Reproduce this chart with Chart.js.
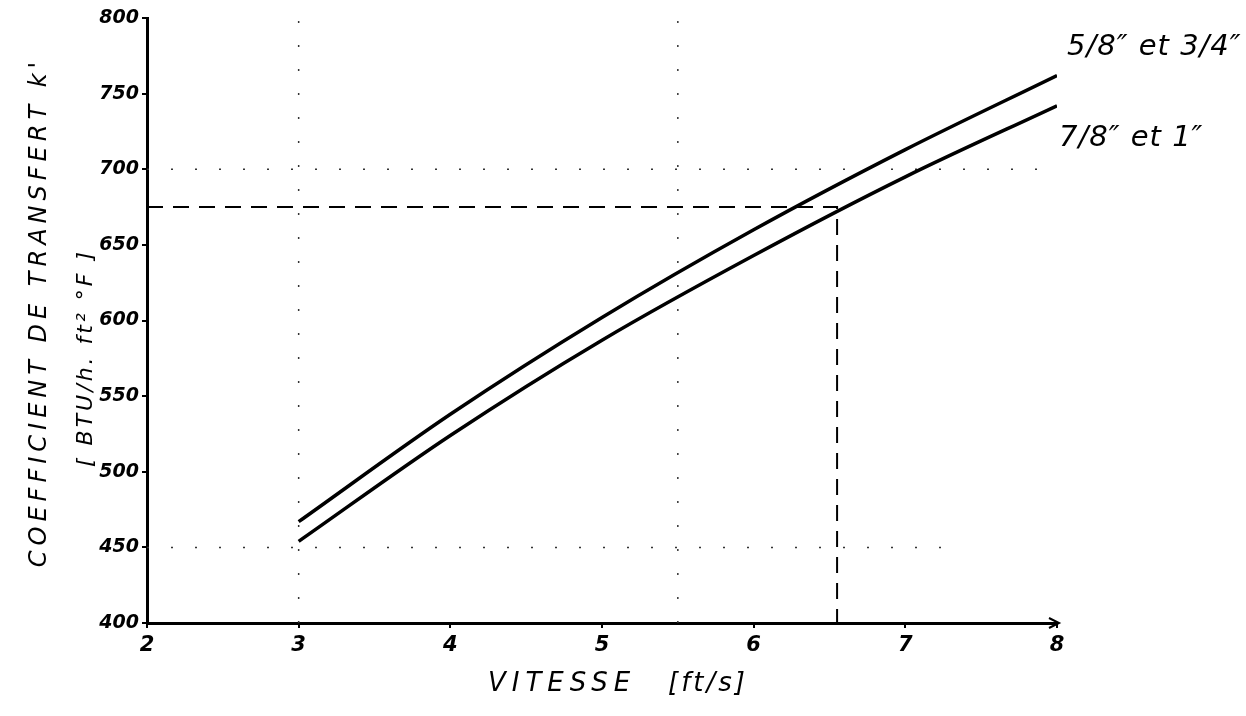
<!DOCTYPE html>
<html>
<head>
<meta charset="utf-8">
<script src="https://cdn.jsdelivr.net/npm/chart.js@4.4.1/dist/chart.umd.min.js"></script>
<style>
  html, body { margin: 0; padding: 0; background: #fff; }
  #wrap { width: 1246px; height: 716px; position: relative; }
</style>
</head>
<body>
<div id="wrap"><canvas id="kChart" width="1246" height="716"></canvas></div>
<script>
// vitesse (ft/s) et coefficient k'
const vitesse = [3, 4, 5, 6, 7, 8];
const k_58_34 = [467, 538, 602, 660, 713, 762];
const k_78_1 = [454, 524, 587, 643, 695, 742];

const serieNames = ['5/8\u2033 et 3/4\u2033', '7/8\u2033 et 1\u2033'];
const xTicks = [2, 3, 4, 5, 6, 7, 8];
const yTicks = [400, 450, 500, 550, 600, 650, 700, 750, 800];

// lecture: v = 6.55 ft/s -> k' = 675
const lectureX = [2, 6.55, 6.55];
const lectureY = [675, 675, 400];

// lignes pointillées du papier
const pointV3X = [3, 3];
const pointV3Y = [400, 800];
const pointV55X = [5.5, 5.5];
const pointV55Y = [400, 800];
const pointH700X = [2, 8];
const pointH700Y = [700, 700];
const pointH450X = [2, 7.3];
const pointH450Y = [450, 450];

const pts = (xs, ys) => xs.map((x, i) => ({ x: x, y: ys[i] }));

const handFont = '"DejaVu Sans", sans-serif';

const dotted = (data) => ({
  data: data,
  borderColor: '#333',
  borderWidth: 1.5,
  borderDash: [2, 22],
  pointRadius: 0,
  fill: false,
  tension: 0
});

const titlesPlugin = {
  id: 'titles',
  afterDraw(chart) {
    const ctx = chart.ctx;
    const xs = chart.scales.x, ys = chart.scales.y;
    const area = chart.chartArea;
    ctx.save();
    ctx.fillStyle = '#000';
    ctx.strokeStyle = '#000';

    // petite flèche au bout de l'axe x
    ctx.lineWidth = 2;
    ctx.beginPath();
    ctx.moveTo(area.right - 8, area.bottom - 5);
    ctx.lineTo(area.right + 2, area.bottom);
    ctx.lineTo(area.right - 8, area.bottom + 5);
    ctx.stroke();

    // titre axe x
    ctx.font = 'italic 26px ' + handFont;
    ctx.textAlign = 'left';
    ctx.textBaseline = 'middle';
    ctx.letterSpacing = '6px';
    ctx.fillText('VITESSE', 488, 684);
    ctx.letterSpacing = '3px';
    ctx.fillText('[ft/s]', 668, 684);

    // titre axe y (deux lignes)
    ctx.textAlign = 'center';
    ctx.save();
    ctx.translate(40, 312);
    ctx.rotate(-Math.PI / 2);
    ctx.font = 'italic 24px ' + handFont;
    ctx.letterSpacing = '5px';
    ctx.fillText("COEFFICIENT DE TRANSFERT k'", 0, 0);
    ctx.restore();
    ctx.save();
    ctx.translate(86, 358);
    ctx.rotate(-Math.PI / 2);
    ctx.font = 'italic 22px ' + handFont;
    ctx.letterSpacing = '3px';
    ctx.fillText('[ BTU/h. ft\u00b2 \u00b0F ]', 0, 0);
    ctx.restore();

    // noms des courbes
    ctx.font = 'italic 29px ' + handFont;
    ctx.letterSpacing = '1px';
    ctx.textAlign = 'left';
    ctx.textBaseline = 'alphabetic';
    const last = vitesse.length - 1;
    ctx.fillText(serieNames[0], xs.getPixelForValue(vitesse[last]) + 10, ys.getPixelForValue(k_58_34[last]) - 20);
    ctx.fillText(serieNames[1], xs.getPixelForValue(vitesse[last]) + 2, ys.getPixelForValue(k_78_1[last]) + 40);
    ctx.restore();
  }
};

const config = {
  type: 'line',
  data: {
    datasets: [
      {
        label: serieNames[0],
        data: pts(vitesse, k_58_34),
        borderColor: '#000',
        borderWidth: 3.5,
        pointRadius: 0,
        cubicInterpolationMode: 'monotone',
        fill: false
      },
      {
        label: serieNames[1],
        data: pts(vitesse, k_78_1),
        borderColor: '#000',
        borderWidth: 3.5,
        pointRadius: 0,
        cubicInterpolationMode: 'monotone',
        fill: false
      },
      {
        label: 'lecture',
        data: pts(lectureX, lectureY),
        borderColor: '#000',
        borderWidth: 2,
        borderDash: [16, 10],
        pointRadius: 0,
        fill: false,
        tension: 0
      },
      dotted(pts(pointV3X, pointV3Y)),
      dotted(pts(pointV55X, pointV55Y)),
      dotted(pts(pointH700X, pointH700Y)),
      dotted(pts(pointH450X, pointH450Y))
    ]
  },
  options: {
    responsive: false,
    animation: false,
    layout: { padding: { top: 18, right: 189, left: 0, bottom: 0 } },
    plugins: {
      legend: { display: false },
      tooltip: { enabled: false }
    },
    scales: {
      x: {
        type: 'linear',
        min: 2,
        max: 8,
        afterBuildTicks: (scale) => { scale.ticks = xTicks.map(v => ({ value: v })); },
        afterFit: (scale) => { scale.height = 93; },
        border: { display: true, color: '#000', width: 3 },
        grid: { drawOnChartArea: false, drawTicks: true, tickLength: 5, color: '#000', lineWidth: 2 },
        ticks: {
          color: '#000',
          padding: 5,
          font: { family: handFont, size: 21, style: 'italic', weight: 'bold' }
        }
      },
      y: {
        min: 400,
        max: 800,
        afterBuildTicks: (scale) => { scale.ticks = yTicks.map(v => ({ value: v })); },
        afterFit: (scale) => { scale.width = 147; },
        border: { display: true, color: '#000', width: 3 },
        grid: { drawOnChartArea: false, drawTicks: true, tickLength: 5, color: '#000', lineWidth: 2 },
        ticks: {
          color: '#000',
          padding: 3,
          font: { family: handFont, size: 19, style: 'italic', weight: 'bold' }
        }
      }
    }
  },
  plugins: [titlesPlugin]
};

new Chart(document.getElementById('kChart'), config);
</script>
</body>
</html>
